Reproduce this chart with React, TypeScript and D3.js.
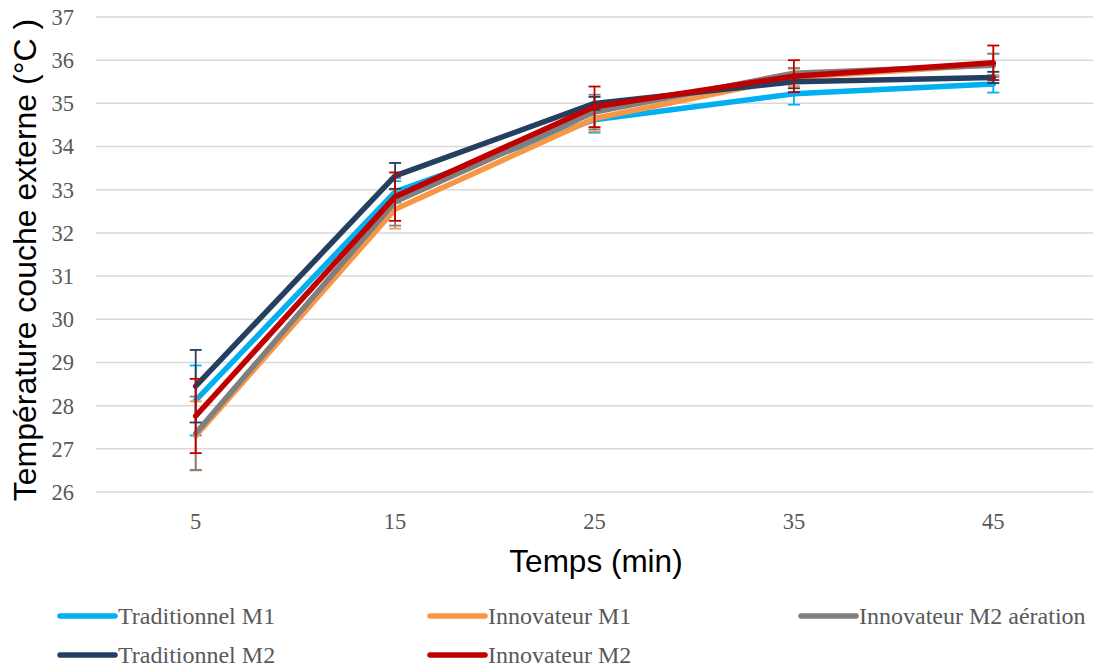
import React from "react";
import * as d3 from "d3";

const categories = ["5", "15", "25", "35", "45"];
const yTicks = [26, 27, 28, 29, 30, 31, 32, 33, 34, 35, 36, 37];
const seriesNames = ["Traditionnel M1", "Innovateur M1", "Innovateur M2 aération", "Traditionnel M2", "Innovateur M2"];
const seriesColors = ["#00B0F0", "#F79646", "#7F7F7F", "#243F60", "#C00000"];
const tradM1 = [28.12, 32.95, 34.62, 35.22, 35.45];
const innovM1 = [27.3, 32.55, 34.65, 35.6, 35.9];
const innovM2Aer = [27.36, 32.72, 34.8, 35.7, 35.88];
const tradM2 = [28.45, 33.32, 35.0, 35.5, 35.6];
const innovM2 = [27.76, 32.84, 34.92, 35.63, 35.94];
const errTradM1 = [0.81, 0.25, 0.3, 0.25, 0.2];
const errInnovM1 = [0.8, 0.45, 0.3, 0.2, 0.25];
const errInnovM2Aer = [0.85, 0.55, 0.4, 0.12, 0.27];
const errTradM2 = [0.84, 0.3, 0.15, 0.15, 0.13];
const errInnovM2 = [0.86, 0.56, 0.47, 0.37, 0.4];

const values = [tradM1, innovM1, innovM2Aer, tradM2, innovM2];
const errors = [errTradM1, errInnovM1, errInnovM2Aer, errTradM2, errInnovM2];

export default function App() {
  const W = 1098, H = 667;
  const plotL = 96, plotR = 1093;
  const x = d3.scaleBand().domain(categories).range([plotL, plotR]);
  const y = d3.scaleLinear().domain([26, 37]).range([492, 17]);
  const cx = (c: string) => (x(c) as number) + x.bandwidth() / 2;
  const line = d3.line<number>().x((_, i) => cx(categories[i])).y((d) => y(d));
  const serif = "'Liberation Serif', 'Times New Roman', serif";
  const sans = "'Liberation Sans', Arial, sans-serif";
  const legendPos = [
    { x: 60, y: 616 }, { x: 430, y: 616 }, { x: 801, y: 616 },
    { x: 60, y: 655 }, { x: 430, y: 655 },
  ];
  return (
    <svg width={W} height={H} style={{ position: "absolute", left: 0, top: 0, background: "#fff" }}>
      {yTicks.map((t) => (
        <g key={t}>
          <line x1={plotL} x2={plotR} y1={y(t)} y2={y(t)} stroke="#D9D9D9" strokeWidth={1.5} />
          <text x={74} y={y(t)} dy="0.35em" textAnchor="end" fontFamily={serif} fontSize={22.5} fill="#595959">{t}</text>
        </g>
      ))}
      {categories.map((c) => (
        <text key={c} x={cx(c)} y={529} textAnchor="middle" fontFamily={serif} fontSize={22.5} fill="#595959">{c}</text>
      ))}
      <text x={596} y={572} textAnchor="middle" fontFamily={sans} fontSize={31.5} fill="#000">Temps (min)</text>
      <text transform={`translate(36,260) rotate(-90)`} textAnchor="middle" fontFamily={sans} fontSize={32} fill="#000">Température couche externe (°C )</text>
      {values.map((vals, si) => (
        <g key={si}>
          <path d={line(vals) as string} fill="none" stroke={seriesColors[si]} strokeWidth={5.5} strokeLinejoin="round" strokeLinecap="round" />
          {vals.map((v, i) => {
            const px = cx(categories[i]);
            const e = errors[si][i];
            return (
              <g key={i} stroke={seriesColors[si]} strokeWidth={1.8}>
                <line x1={px} x2={px} y1={y(v + e)} y2={y(v - e)} />
                <line x1={px - 6} x2={px + 6} y1={y(v + e)} y2={y(v + e)} />
                <line x1={px - 6} x2={px + 6} y1={y(v - e)} y2={y(v - e)} />
              </g>
            );
          })}
        </g>
      ))}
      {seriesNames.map((n, i) => (
        <g key={n}>
          <line x1={legendPos[i].x} x2={legendPos[i].x + 55} y1={legendPos[i].y} y2={legendPos[i].y} stroke={seriesColors[i]} strokeWidth={5.5} strokeLinecap="round" />
          <text x={legendPos[i].x + 58} y={legendPos[i].y} dy="0.35em" fontFamily={serif} fontSize={24} fill="#595959">{n}</text>
        </g>
      ))}
    </svg>
  );
}
